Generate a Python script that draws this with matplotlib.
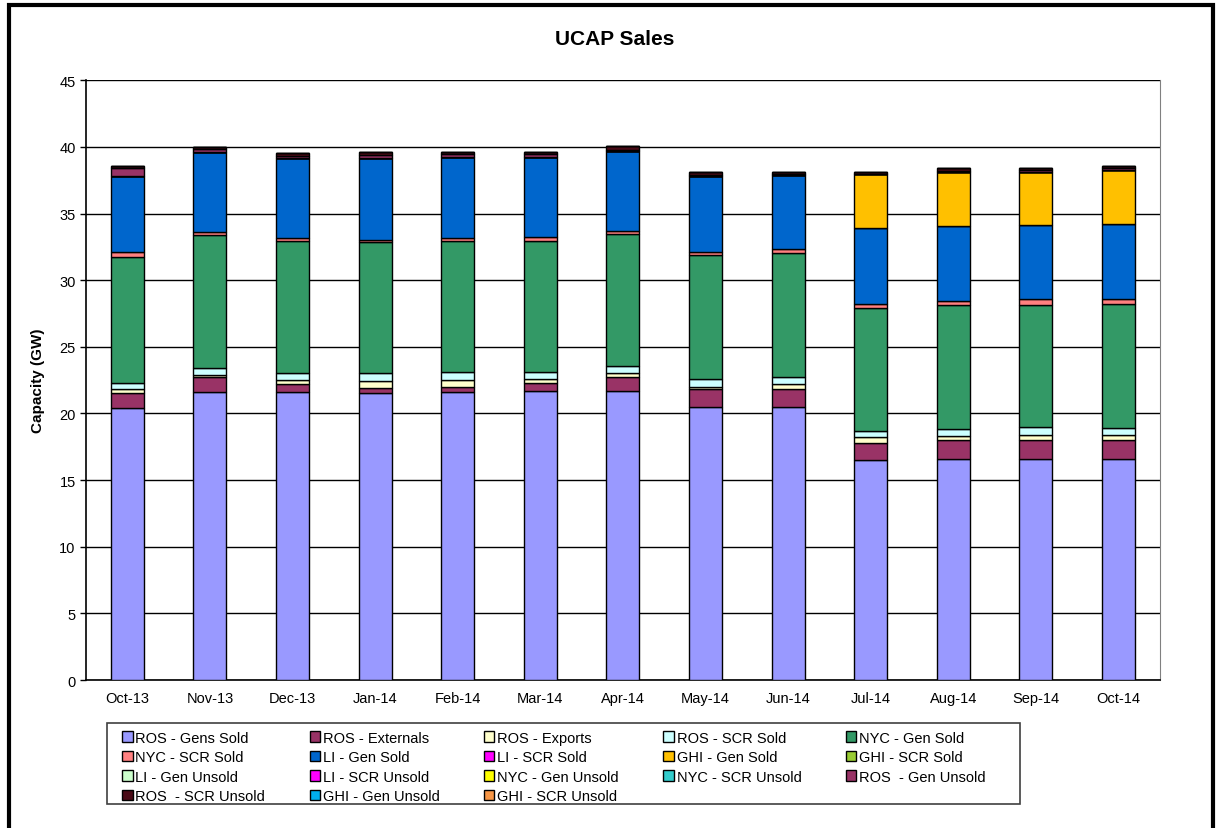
import numpy as np
import matplotlib.pyplot as plt
from matplotlib.patches import Rectangle

plt.rcParams['font.family'] = ['Liberation Sans', 'DejaVu Sans']

# months on the x axis
months = ["Oct-13", "Nov-13", "Dec-13", "Jan-14", "Feb-14", "Mar-14", "Apr-14",
          "May-14", "Jun-14", "Jul-14", "Aug-14", "Sep-14", "Oct-14"]

# capacity per category in GW (stacked bottom to top in this order)
ros_gens_sold  = [20.4, 21.6, 21.6, 21.5, 21.6, 21.7, 21.7, 20.5, 20.5, 16.5, 16.6, 16.6, 16.6]
ros_externals  = [1.1, 1.1, 0.6, 0.4, 0.4, 0.6, 1.0, 1.3, 1.3, 1.3, 1.4, 1.4, 1.4]
ros_exports    = [0.3, 0.2, 0.3, 0.5, 0.5, 0.3, 0.3, 0.2, 0.4, 0.4, 0.3, 0.35, 0.4]
ros_scr_sold   = [0.5, 0.5, 0.5, 0.6, 0.6, 0.5, 0.55, 0.6, 0.5, 0.5, 0.55, 0.6, 0.5]
nyc_gen_sold   = [9.45, 10.0, 9.95, 9.85, 9.85, 9.85, 9.9, 9.3, 9.35, 9.2, 9.3, 9.2, 9.3]
nyc_scr_sold   = [0.35, 0.2, 0.2, 0.2, 0.2, 0.3, 0.25, 0.2, 0.3, 0.3, 0.3, 0.4, 0.35]
li_gen_sold    = [5.75, 6.05, 6.0, 6.1, 6.1, 6.0, 6.0, 5.7, 5.55, 5.7, 5.65, 5.6, 5.7]
li_scr_sold    = [0] * 13
ghi_gen_sold   = [0, 0, 0, 0, 0, 0, 0, 0, 0, 4.05, 4.0, 4.0, 4.05]
ghi_scr_sold   = [0] * 13
li_gen_unsold  = [0] * 13
li_scr_unsold  = [0] * 13
nyc_gen_unsold = [0] * 13
nyc_scr_unsold = [0] * 13
ros_gen_unsold = [0.6, 0.2, 0.2, 0.25, 0.25, 0.25, 0.1, 0.1, 0.1, 0.05, 0.1, 0.1, 0.1]
ros_scr_unsold = [0.15, 0.12, 0.18, 0.18, 0.15, 0.15, 0.27, 0.22, 0.12, 0.15, 0.2, 0.16, 0.16]
ghi_gen_unsold = [0] * 13
ghi_scr_unsold = [0] * 13

series = [
    ("ROS - Gens Sold", ros_gens_sold, "#9999FF"),
    ("ROS - Externals", ros_externals, "#993366"),
    ("ROS - Exports", ros_exports, "#FFFFCC"),
    ("ROS - SCR Sold", ros_scr_sold, "#CCFFFF"),
    ("NYC - Gen Sold", nyc_gen_sold, "#339966"),
    ("NYC - SCR Sold", nyc_scr_sold, "#FF8080"),
    ("LI - Gen Sold", li_gen_sold, "#0066CC"),
    ("LI - SCR Sold", li_scr_sold, "#FF00FF"),
    ("GHI - Gen Sold", ghi_gen_sold, "#FFC000"),
    ("GHI - SCR Sold", ghi_scr_sold, "#99CC33"),
    ("LI - Gen Unsold", li_gen_unsold, "#CCFFCC"),
    ("LI - SCR Unsold", li_scr_unsold, "#FF00FF"),
    ("NYC - Gen Unsold", nyc_gen_unsold, "#FFFF00"),
    ("NYC - SCR Unsold", nyc_scr_unsold, "#33CCCC"),
    ("ROS  - Gen Unsold", ros_gen_unsold, "#993366"),
    ("ROS  - SCR Unsold", ros_scr_unsold, "#4A0A16"),
    ("GHI - Gen Unsold", ghi_gen_unsold, "#00B0F0"),
    ("GHI - SCR Unsold", ghi_scr_unsold, "#F79646"),
]

fig = plt.figure(figsize=(12.17, 8.29), dpi=100)
ax = fig.add_axes([0.0707, 0.1785, 0.8823, 0.7235])

x = np.arange(len(months))
bottom = np.zeros(len(months))
handles = []
for name, vals, col in series:
    vals = np.array(vals, dtype=float)
    b = ax.bar(x, vals, width=0.4, bottom=bottom, color=col, edgecolor="black",
               linewidth=1.0, label=name, zorder=3)
    handles.append(b)
    bottom += vals

ax.set_xlim(-0.5, len(months) - 0.5)
ax.set_ylim(0, 45)
ax.set_yticks(np.arange(0, 46, 5))
ax.set_xticks(x)
ax.set_xticklabels(months, fontsize=10.5)
ax.tick_params(axis="y", labelsize=10.5, length=4, width=1, direction="out")
ax.tick_params(axis="x", length=0, pad=8)
ax.yaxis.grid(True, color="black", linewidth=1, zorder=0)
ax.set_axisbelow(True)
ax.spines["right"].set_color("#808080")
ax.spines["top"].set_visible(False)
ax.spines["left"].set_linewidth(1.2)
ax.spines["bottom"].set_linewidth(1.2)
ax.set_title("UCAP Sales", fontsize=15, fontweight="bold", pad=26, x=0.492)
ax.set_ylabel("Capacity (GW)", fontsize=11, fontweight="bold", labelpad=10)

# legend is read row by row, matplotlib fills column by column -> reorder
ncol = 5
order = []
for c in range(ncol):
    order += list(range(c, len(series), ncol))
leg = fig.legend([handles[i] for i in order], [series[i][0] for i in order],
                 loc="upper left", bbox_to_anchor=(0.1005, 0.1175),
                 ncol=ncol, fontsize=10.5, frameon=False,
                 handlelength=0.7, handleheight=0.7, handletextpad=0.2,
                 columnspacing=3.05, borderaxespad=0, labelspacing=0.38, borderpad=0)

# legend box drawn separately so the padding can differ left/right
fig.patches.append(Rectangle((0.0879, 0.029), 0.750, 0.0977, transform=fig.transFigure,
                             fill=False, edgecolor="#404040", linewidth=1.2))

# thick frame around the whole chart
fig.patches.append(Rectangle((0.007, -0.02), 0.99, 1.013, transform=fig.transFigure,
                             fill=False, edgecolor="black", linewidth=3))

plt.savefig("out.png", dpi=100)
